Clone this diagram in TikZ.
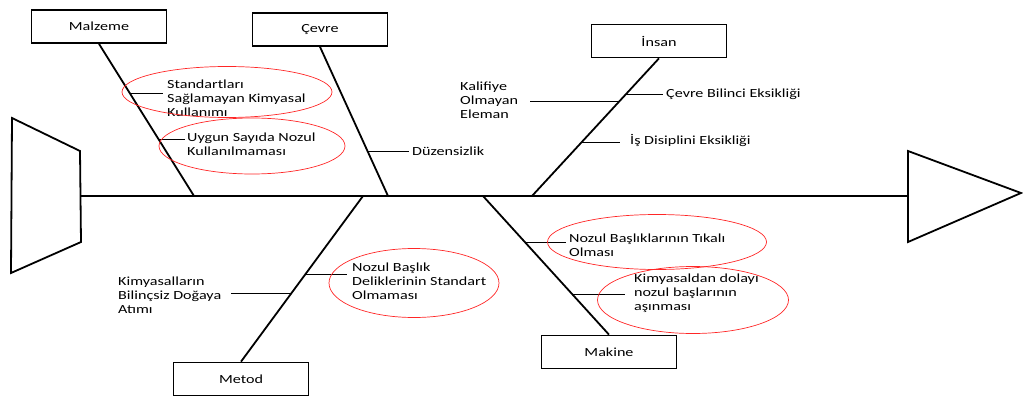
\documentclass[tikz,border=0pt]{standalone}
\usepackage{fontspec}
\setmainfont{Carlito}[FakeStretch=1.3]
\usepackage{tikz}
\usetikzlibrary{arrows,positioning,shapes,shapes.geometric,calc}

\begin{document}
\begin{tikzpicture}[x = 1pt, y = -1pt,
    every node/.style = {font = \fontsize{12.4}{14}\selectfont},
    cat/.style = {draw, line width = 1.7pt, minimum width = 135pt, minimum height = 33pt, inner sep = 0pt},
    bone/.style = {line width = 1.8pt},
    twig/.style = {line width = .8pt},
    oval/.style = {draw = red!85, ellipse, line width = .7pt, inner sep = 0pt},
    lbl/.style = {anchor = west, align = left, inner sep = 0pt}]
    \useasboundingbox (0,0) rectangle (1023,396);
    % Fish
    \draw[bone, line join = miter] (12,118) -- (80,151) -- (81,242) -- (11,273) -- cycle;
    \draw[bone, line join = miter] (908,151) -- (1021,193) -- (908,242) -- cycle;
    \coordinate (tail) at (80,196);
    \coordinate (head) at (908,196);
    \draw[line width = 2.3pt] (tail) -- (head);
    \coordinate (sMalz) at (194,196);
    \coordinate (sCevre) at (388,196);
    \coordinate (sInsan) at (532,196);
    \coordinate (sMetod) at (363,196);
    \coordinate (sMakine) at (483,196);
    % Categories
    \node[cat] (malz) at (99,26.5) {Malzeme};
    \node[cat] (cevre) at (320,29.5) {Çevre};
    \node[cat] (insan) at (659,41) {İnsan};
    \node[cat] (metod) at (241,379) {Metod};
    \node[cat] (makine) at (609,352) {Makine};
    \draw[bone] (malz.south) -- (sMalz);
    \draw[bone] (cevre.south) -- (sCevre);
    \draw[bone] (insan.south) -- (sInsan);
    \draw[bone] (metod.north) -- (sMetod);
    \draw[bone] (makine.north) -- (sMakine);
    % Causes
    \node[lbl] (tStd) at (167,98) {Standartları\\Sağlamayan Kimyasal\\Kullanımı};
    \node[lbl] (tUyg) at (187,144) {Uygun Sayıda Nozul\\Kullanılmaması};
    \node[lbl] (tDuz) at (412,151) {Düzensizlik};
    \node[lbl] (tKal) at (460,100) {Kalifiye\\Olmayan\\Eleman};
    \node[lbl] (tCev) at (666,94) {Çevre Bilinci Eksikliği};
    \node[lbl] (tIs) at (630,141) {İş Disiplini Eksikliği};
    \node[lbl] (tKim) at (118,295) {Kimyasalların\\Bilinçsiz Doğaya\\Atımı};
    \node[lbl] (tNoz) at (352,281) {Nozul Başlık\\Deliklerinin Standart\\Olmaması};
    \node[lbl] (tTik) at (569,245) {Nozul Başlıklarının Tıkalı\\Olması};
    \node[lbl] (tAsi) at (634,293) {Kimyasaldan dolayı\\nozul başlarının\\aşınması};
    \coordinate (m1) at ($(malz.south)!.327!(sMalz)$);
    \coordinate (m2) at ($(malz.south)!.627!(sMalz)$);
    \coordinate (c1) at ($(cevre.south)!.70!(sCevre)$);
    \coordinate (i1) at ($(insan.south)!.312!(sInsan)$);
    \coordinate (i2) at ($(insan.south)!.261!(sInsan)$);
    \coordinate (i3) at ($(insan.south)!.609!(sInsan)$);
    \coordinate (t1) at ($(sMetod)!.587!(metod.north)$);
    \coordinate (t2) at ($(sMetod)!.473!(metod.north)$);
    \coordinate (k1) at ($(sMakine)!.338!(makine.north)$);
    \coordinate (k2) at ($(sMakine)!.712!(makine.north)$);
    \draw[twig, shorten >= 4pt] (m1) -- (m1 -| tStd.west);
    \draw[twig, shorten >= 2pt] (m2) -- (m2 -| tUyg.west);
    \draw[twig, shorten >= 3pt] (c1) -- (c1 -| tDuz.west);
    \draw[twig, shorten <= 12pt] (i1 -| tKal.east) -- (i1);
    \draw[twig, shorten >= 3pt] (i2) -- (i2 -| tCev.west);
    \draw[twig, shorten >= 10pt] (i3) -- (i3 -| tIs.west);
    \draw[twig, shorten <= 10pt] (t1 -| tKim.east) -- (t1);
    \draw[twig, shorten >= 5pt] (t2) -- (t2 -| tNoz.west);
    \draw[twig, shorten >= 3pt] (k1) -- (k1 -| tTik.west);
    \draw[twig, shorten >= 9pt] (k2) -- (k2 -| tAsi.west);
    % Circled causes
    \node[oval, minimum width = 210pt, minimum height = 51pt] (oStd) at (227,92) {};
    \node[oval, minimum width = 186pt, minimum height = 56pt] (oUyg) at (252,146) {};
    \node[oval, minimum width = 170pt, minimum height = 69pt] (oNoz) at (414,283) {};
    \node[oval, minimum width = 219pt, minimum height = 55pt] (oTik) at (657,242) {};
    \node[oval, minimum width = 191pt, minimum height = 67pt] (oAsi) at (693,300) {};
\end{tikzpicture}
\end{document}
